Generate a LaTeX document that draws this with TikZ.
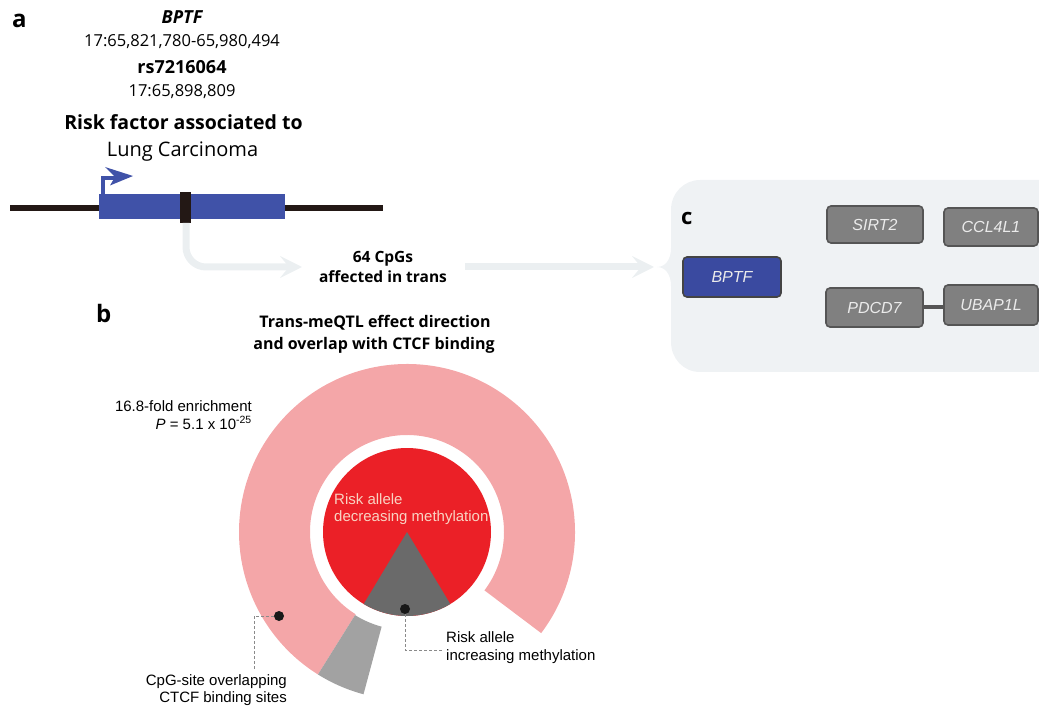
\documentclass[tikz,border=0pt]{standalone}
\usepackage{fontspec}
\setmainfont{Open Sans}
\newfontfamily\arial{Liberation Sans}
\usetikzlibrary{arrows.meta,calc}
\definecolor{geneblue}{HTML}{4052A8}
\definecolor{dkbrown}{HTML}{231815}
\definecolor{lightarr}{HTML}{EBEFF1}
\definecolor{panelbg}{HTML}{EFF2F4}
\definecolor{ringpink}{HTML}{F4A6A8}
\definecolor{piered}{HTML}{EB2027}
\definecolor{wedgegray}{HTML}{6A6A6A}
\definecolor{seggray}{HTML}{A2A2A2}
\definecolor{peach}{HTML}{F9D3C2}
\definecolor{boxgray}{HTML}{808080}
\definecolor{boxedge}{HTML}{555555}
\definecolor{boxblue}{HTML}{3A4AA0}
\definecolor{dashgray}{HTML}{8A8A8A}
\begin{document}
\begin{tikzpicture}[x=1pt,y=1pt,
  txt/.style={inner sep=0pt, anchor=base},
  txtl/.style={inner sep=0pt, anchor=base west},
  txtr/.style={inner sep=0pt, anchor=base east},
  sanslab/.style={font=\arial\fontsize{15}{18}\selectfont},
  gbox/.style={draw=boxedge, fill=boxgray, line width=1.6pt, rounded corners=4pt,
    text=white!92!black, font=\arial\itshape\fontsize{16}{19}\selectfont, inner sep=0pt,
    minimum height=38pt},
  dashline/.style={draw=dashgray, dash pattern=on 3pt off 2pt, line width=1pt},
  dotb/.style={circle, fill=black!90, inner sep=0pt, minimum size=10pt},
  lightarrow/.style={draw=lightarr, line width=7pt,
    -{Stealth[length=22pt,width=22pt,inset=9pt]}},
]
\useasboundingbox (0,0) rectangle (1039,-708);
\clip (0,0) rectangle (1039,-708);

% ---------- panel a ----------
\node[txtl, font=\bfseries\fontsize{24}{28}\selectfont] (labA) at (12,-28) {a};
\node[txt, font=\bfseries\itshape\fontsize{18}{22}\selectfont] (gname) at (182,-24) {BPTF};
\node[txt, font=\fontsize{16.5}{20}\selectfont] (gpos) at (182,-46.5) {17:65,821,780-65,980,494};
\node[txt, font=\bfseries\fontsize{18}{22}\selectfont] (snp) at (182,-74) {rs7216064};
\node[txt, font=\fontsize{16.5}{20}\selectfont] (snppos) at (182,-96.5) {17:65,898,809};
\node[txt, font=\bfseries\fontsize{19.5}{24}\selectfont] (risk) at (183.5,-130) {Risk factor associated to};
\node[txt, font=\fontsize{20}{24}\selectfont] (lung) at (182.5,-156.5) {Lung Carcinoma};

% gene
\coordinate (lineL) at (10,-208.5);
\coordinate (lineR) at (383,-208.5);
\draw[dkbrown, line width=6pt] (lineL) -- (lineR);
\fill[geneblue] (99,-194) rectangle (285,-219);
\fill[dkbrown] (180,-192) rectangle (191,-223);
\draw[geneblue, line width=4pt] (102.5,-195) -- (102.5,-178) -- (117,-178);
\fill[geneblue] (105,-167) -- (133,-176) -- (110,-185.5) -- (115,-177) -- cycle;

% light arrows
\coordinate (snpB) at (186,-223);
\coordinate (arrTip1) at (302,-267);
\draw[lightarrow, rounded corners=20pt] (snpB) -- (186,-267) -- (arrTip1);
\node[txt, font=\bfseries\fontsize{15.5}{19}\selectfont] (cpg1) at (383,-263) {64 CpGs};
\node[txt, font=\bfseries\fontsize{15.5}{19}\selectfont] (cpg2) at (383,-283) {affected in trans};
\coordinate (arr2S) at (465,-267);
\coordinate (arr2E) at (654,-267);
\draw[lightarrow] (arr2S) -- (arr2E);

% ---------- panel c ----------
\fill[panelbg] (700,-180) -- (1045,-180) -- (1045,-372) -- (700,-372)
  .. controls (683,-372) and (671,-358) .. (671,-342) -- (671,-286)
  .. controls (671,-274) and (665,-267) .. (657,-267)
  .. controls (665,-267) and (671,-260) .. (671,-248) -- (671,-210)
  .. controls (671,-193) and (684,-180) .. (700,-180) -- cycle;
\node[txtl, font=\bfseries\fontsize{22}{26}\selectfont] (labC) at (681,-225) {c};
\node[gbox, fill=boxblue, draw=boxedge!80!black, minimum width=98pt, minimum height=40pt] (nBPTF) at (732,-277) {BPTF};
\node[gbox, minimum width=96pt, minimum height=37pt] (nSIRT) at (875,-224.5) {SIRT2};
\node[gbox, minimum width=94pt] (nCCL) at (991,-227) {CCL4L1};
\node[gbox, minimum width=97pt, minimum height=39pt] (nPDCD) at (874.5,-307.5) {PDCD7};
\node[gbox, minimum width=94pt, minimum height=40pt] (nUBAP) at (991,-305) {UBAP1L};
\draw[boxedge, line width=4pt] (nPDCD.east) -- (nUBAP.west |- nPDCD.east);

% ---------- panel b ----------
\node[txtl, font=\bfseries\fontsize{24}{28}\selectfont] (labB) at (96,-323) {b};
\node[txt, font=\bfseries\fontsize{16}{20}\selectfont] (tb1) at (375,-328) {Trans-meQTL effect direction};
\node[txt, font=\bfseries\fontsize{16}{20}\selectfont] (tb2) at (374,-349.3) {and overlap with CTCF binding};

\coordinate (C) at (407,-532);
\fill[ringpink] ($(C)+(-37:168)$) arc[start angle=-37,end angle=238,radius=168pt]
  -- ($(C)+(238:97)$) arc[start angle=238,end angle=-37,radius=97pt] -- cycle;
\fill[seggray] ($(C)+(238:168)$) arc[start angle=238,end angle=255,radius=168pt]
  -- ($(C)+(255:98)$) arc[start angle=255,end angle=238,radius=98pt] -- cycle;
\fill[piered] (C) circle[radius=84pt];
\fill[wedgegray] (C) -- ($(C)+(239:84)$) arc[start angle=239,end angle=301,radius=84pt] -- cycle;

\node[txtl, sanslab, text=peach] (dec1) at (334,-504) {Risk allele};
\node[txtl, sanslab, text=peach] (dec2) at (334,-521.7) {decreasing methylation};

\node[txtr, sanslab] (enr1) at (252,-412) {16.8-fold enrichment};
\node[txtr, sanslab] (enr2) at (252,-429) {\itshape P\upshape\ = 5.1 x 10\textsuperscript{-25}};

\node[dotb] (dot1) at (279,-616) {};
\node[dotb] (dot2) at (405,-609) {};
\coordinate (k1) at (254,-616);
\coordinate (k1e) at (254,-671);
\coordinate (k2) at (405,-650);
\coordinate (k2e) at (443,-650);
\draw[dashline] (dot1) -- (k1) -- (k1e);
\draw[dashline] (dot2) -- (k2) -- (k2e);

\node[txtr, sanslab] (ctcf1) at (287,-685) {CpG-site overlapping};
\node[txtr, sanslab] (ctcf2) at (287,-702) {CTCF binding sites};
\node[txtl, sanslab] (inc1) at (446,-642) {Risk allele};
\node[txtl, sanslab] (inc2) at (446,-660) {increasing methylation};
\end{tikzpicture}
\end{document}
